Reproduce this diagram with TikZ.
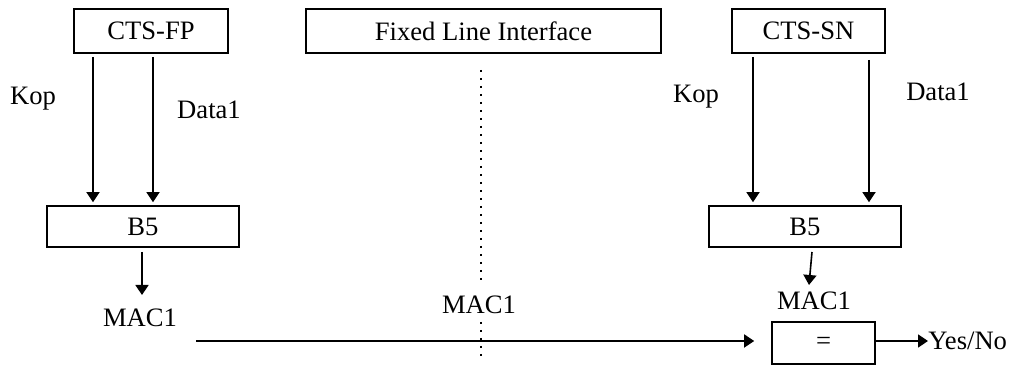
\documentclass[tikz,border=0pt]{standalone}
\usepackage{fontspec}
\setmainfont{Liberation Serif}
\usetikzlibrary{arrows.meta}
\begin{document}
\begin{tikzpicture}[x=0.5pt,y=-0.5pt,
  every node/.style={font=\fontsize{13.3pt}{16pt}\selectfont},
  box/.style={draw,line width=0.8pt,inner sep=0pt,minimum height=22pt},
  lbl/.style={inner sep=0pt},
  arr/.style={line width=0.8pt,-{Triangle[length=5pt,width=6.5pt]}},
  dotline/.style={line width=0.9pt,dash pattern=on 1pt off 3pt}]
\useasboundingbox (0,0) rectangle (1013,367);
% boxes
\node[box,minimum width=77pt] (fp) at (151,31) {CTS-FP};
\node[box,minimum width=177.5pt] (fli) at (483.5,31) {Fixed Line Interface};
\node[box,minimum width=76.5pt] (sn) at (808.5,31) {CTS-SN};
\node[box,minimum width=96pt,minimum height=20.5pt] (b5l) at (143,226.5) {B5};
\node[box,minimum width=96pt,minimum height=20.5pt] (b5r) at (805,226.5) {B5};
\node[box,minimum width=51.5pt,minimum height=21pt] (eq) at (823.5,343) {=};
% labels
\node[lbl] (kopl) at (33,99) {Kop};
\node[lbl] (datal) at (209,110) {Data1};
\node[lbl] (kopr) at (696,97) {Kop};
\node[lbl] (datar) at (938,92) {Data1};
\node[lbl] (macl) at (140,318) {MAC1};
\node[lbl] (macm) at (479,305) {MAC1};
\node[lbl] (macr) at (814,301) {MAC1};
\node[lbl,anchor=west] (yn) at (928,341) {Yes/No};
% coordinates
\coordinate (k1) at (93,57);
\coordinate (d1) at (153,57);
\coordinate (k2) at (753,57);
\coordinate (d2) at (869,60);
\coordinate (b5lo) at (142,252);
\coordinate (b5li) at (142,295);
\coordinate (b5ro) at (812,252);
\coordinate (b5ri) at (809,285);
\coordinate (hstart) at (196,341);
\coordinate (dt1) at (481,70);
\coordinate (dt2) at (481,282);
\coordinate (dt3) at (481,322);
\coordinate (dt4) at (481,360);
% dotted interface line
\draw[dotline] (dt1) -- (dt2);
\draw[dotline] (dt3) -- (dt4);
% arrows
\draw[arr,shorten >=1.5pt] (k1) -- (k1 |- b5l.north);
\draw[arr,shorten >=1.5pt] (d1) -- (d1 |- b5l.north);
\draw[arr,shorten >=1.5pt] (k2) -- (k2 |- b5r.north);
\draw[arr,shorten >=1.5pt] (d2) -- (d2 |- b5r.north);
\draw[arr] (b5lo) -- (b5li);
\draw[arr] (b5ro) -- (b5ri);
\draw[arr,shorten >=8.5pt] (hstart) -- (hstart -| eq.west);
\draw[arr] (eq.east |- yn.west) -- (yn.west);
\end{tikzpicture}
\end{document}
